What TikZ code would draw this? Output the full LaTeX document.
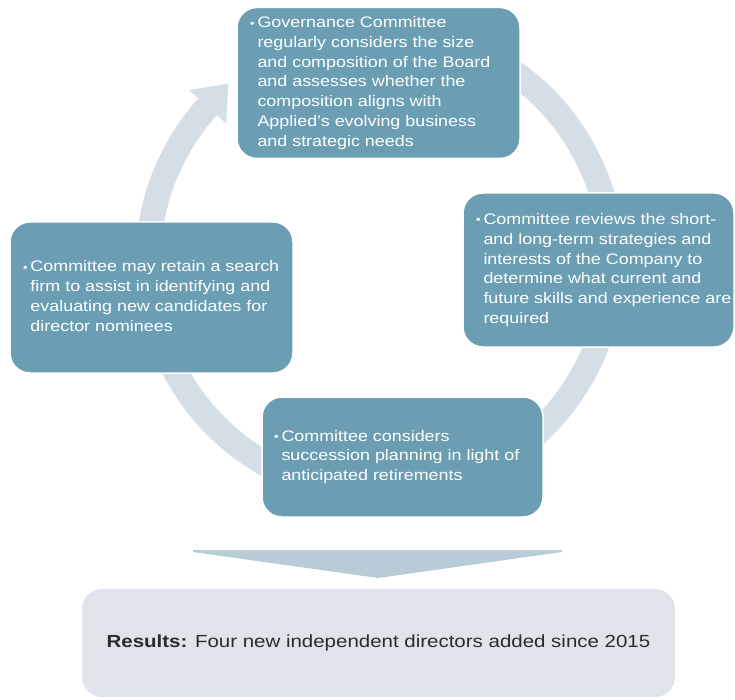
\documentclass[tikz,border=0pt]{standalone}
\usepackage{fontspec}
\setmainfont{Liberation Sans}[FakeStretch=1.17]
\usetikzlibrary{calc}
\definecolor{boxcol}{HTML}{6C9EB3}
\definecolor{arccol}{HTML}{D5DEE6}
\definecolor{chevcol}{HTML}{B7CCD7}
\definecolor{rescol}{HTML}{DEE4EA}
\definecolor{restext}{HTML}{2B2B2B}
\newcommand{\bul}{\makebox[7.5pt][l]{\fontsize{11}{11}\selectfont\raisebox{0.5pt}{•}}}
\newcommand{\boxfont}{\fontsize{15.3}{19.8}\selectfont}
\tikzset{
  stepbox/.style={draw=white, line width=1.5pt, fill=boxcol, rounded corners=20pt,
    inner sep=0pt, text=white, anchor=center},
  resbox/.style={fill=rescol, rounded corners=20pt, inner sep=0pt, text=restext, anchor=center},
  cycband/.style={draw=arccol, line width=25pt},
}
\begin{document}
\begin{tikzpicture}[x=1pt,y=-1pt]
\useasboundingbox (0,0) rectangle (735,700);
% cycle band
\coordinate (c) at (380,262);
\draw[cycband] ($(c)+(-115:232)$) arc[start angle=-115, end angle=222, radius=232];
\coordinate (hbo) at ($(c)+(222:257)$);
\coordinate (hbi) at ($(c)+(222:207)$);
\coordinate (htip) at ($(c)+(222:232)+(312:31)$);
\fill[arccol] (hbo) -- (hbi) -- (htip) -- cycle;
% boxes
\node[stepbox, minimum width=283pt, minimum height=151pt] (top) at (378.5,83) {\makebox[257pt][l]{\boxfont
\begin{tabular}{@{}l@{}l@{}}
\bul & Governance Committee\\
 & regularly considers the size\\
 & and composition of the Board\\
 & and assesses whether the\\
 & composition aligns with\\
 & Applied’s evolving business\\
 & and strategic needs
\end{tabular}}};
\node[stepbox, minimum width=271pt, minimum height=154pt] (right) at (598.5,270) {\makebox[245pt][l]{\boxfont
\begin{tabular}{@{}l@{}l@{}}
\bul & Committee reviews the short-\\
 & and long-term strategies and\\
 & interests of the Company to\\
 & determine what current and\\
 & future skills and experience are\\
 & required
\end{tabular}}};
\node[stepbox, minimum width=283pt, minimum height=151pt] (left) at (151.5,297.5) {\makebox[257pt][l]{\boxfont
\begin{tabular}{@{}l@{}l@{}}
\bul & Committee may retain a search\\
 & firm to assist in identifying and\\
 & evaluating new candidates for\\
 & director nominees
\end{tabular}}};
\node[stepbox, minimum width=281pt, minimum height=120pt] (bottom) at (402.5,457) {\makebox[257pt][l]{\boxfont
\begin{tabular}{@{}l@{}l@{}}
\bul & Committee considers\\
 & succession planning in light of\\
 & anticipated retirements
\end{tabular}}};
% chevron
\fill[chevcol] (193,550) -- (562,550) -- (562,552) -- (378,578) -- (193,552) -- cycle;
% results
\node[resbox, minimum width=593pt, minimum height=108pt] (res) at (378.5,643)
  {\fontsize{17.5}{20}\selectfont\textbf{Results:} Four new independent directors added since 2015};
\end{tikzpicture}
\end{document}
